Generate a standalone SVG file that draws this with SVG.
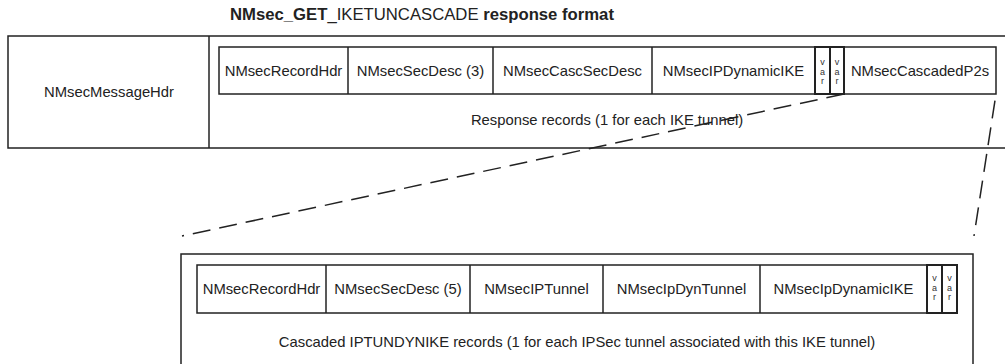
<svg xmlns="http://www.w3.org/2000/svg" width="1005" height="364" viewBox="0 0 1005 364">
<style>
  .box { fill: none; stroke: #222; stroke-width: 1.5; }
  .var { fill: none; stroke: #222; stroke-width: 2; }
  .lbl { font-family: "Liberation Sans", Arial, Helvetica, sans-serif; font-size: 14.8px; fill: #222; text-anchor: middle; }
  .v { font-family: "Liberation Sans", Arial, Helvetica, sans-serif; font-size: 9px; fill: #333; text-anchor: middle; }
  .title { font-family: "Liberation Sans", Arial, Helvetica, sans-serif; font-size: 16.7px; fill: #222; }
  .dash { fill: none; stroke: #222; stroke-width: 1.5; stroke-dasharray: 18 9; }
</style>
<rect width="1005" height="364" fill="#fff"/>
<g id="title">
  <text class="title" x="230" y="20"><tspan font-weight="bold">NMsec_GET</tspan>_IKETUNCASCADE<tspan font-weight="bold"> response format</tspan></text>
</g>
<g id="response-message">
  <rect class="box" x="8" y="36" width="1010" height="112"/>
  <line class="box" x1="209" y1="36" x2="209" y2="148"/>
</g>
<g id="message-hdr">
  <text class="lbl" x="109" y="97">NMsecMessageHdr</text>
</g>
<g id="response-records">
  <rect class="box" x="219" y="47" width="777" height="47"/>
  <line class="box" x1="348" y1="47" x2="348" y2="94"/>
  <line class="box" x1="493" y1="47" x2="493" y2="94"/>
  <line class="box" x1="652" y1="47" x2="652" y2="94"/>
  <rect class="var" x="815" y="47" width="15" height="47"/>
  <rect class="var" x="830" y="47" width="14" height="47"/>
  <text class="lbl" x="283.5" y="76">NMsecRecordHdr</text>
  <text class="lbl" x="420.5" y="76">NMsecSecDesc (3)</text>
  <text class="lbl" x="572.5" y="76">NMsecCascSecDesc</text>
  <text class="lbl" x="733.5" y="76">NMsecIPDynamicIKE</text>
  <text class="v" x="822.5" y="65">v</text><text class="v" x="822.5" y="75">a</text><text class="v" x="822.5" y="84">r</text>
  <text class="v" x="837" y="65">v</text><text class="v" x="837" y="75">a</text><text class="v" x="837" y="84">r</text>
  <text class="lbl" x="920" y="76">NMsecCascadedP2s</text>
  <text class="lbl" x="607" y="125">Response records (1 for each IKE tunnel)</text>
</g>
<g id="connectors">
  <line class="dash" x1="844" y1="94" x2="182" y2="236"/>
  <line class="dash" x1="996" y1="94" x2="974" y2="236" stroke-dashoffset="20.3"/>
</g>
<g id="cascaded-records">
  <rect class="box" x="181" y="254" width="792" height="120"/>
  <rect class="box" x="197" y="265" width="760" height="48"/>
  <line class="box" x1="326" y1="265" x2="326" y2="313"/>
  <line class="box" x1="470" y1="265" x2="470" y2="313"/>
  <line class="box" x1="603" y1="265" x2="603" y2="313"/>
  <line class="box" x1="760" y1="265" x2="760" y2="313"/>
  <rect class="var" x="927" y="265" width="15" height="48"/>
  <rect class="var" x="942" y="265" width="15" height="48"/>
  <text class="lbl" x="261.5" y="294">NMsecRecordHdr</text>
  <text class="lbl" x="398" y="294">NMsecSecDesc (5)</text>
  <text class="lbl" x="536.5" y="294">NMsecIPTunnel</text>
  <text class="lbl" x="681.5" y="294">NMsecIpDynTunnel</text>
  <text class="lbl" x="843.5" y="294">NMsecIpDynamicIKE</text>
  <text class="v" x="934.5" y="281">v</text><text class="v" x="934.5" y="291">a</text><text class="v" x="934.5" y="300">r</text>
  <text class="v" x="949.5" y="281">v</text><text class="v" x="949.5" y="291">a</text><text class="v" x="949.5" y="300">r</text>
  <text class="lbl" x="577" y="347">Cascaded IPTUNDYNIKE records (1 for each IPSec tunnel associated with this IKE tunnel)</text>
</g>
</svg>
